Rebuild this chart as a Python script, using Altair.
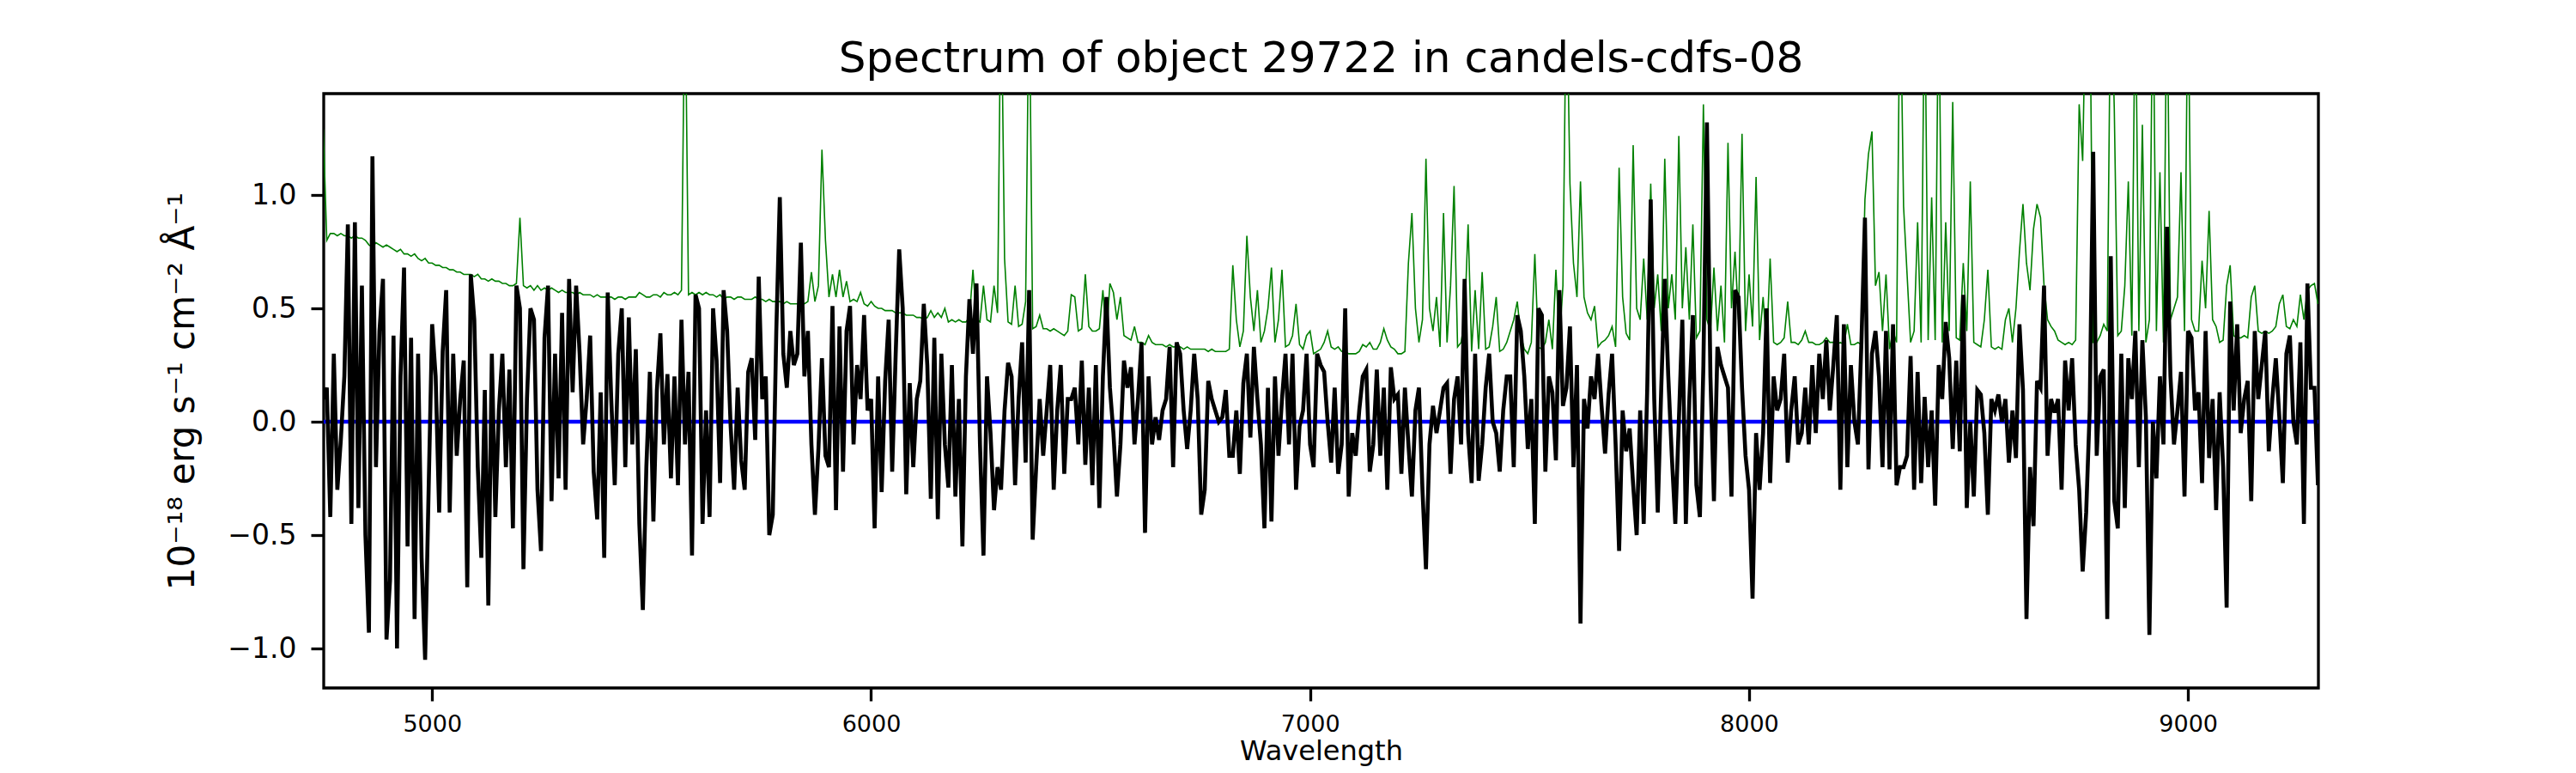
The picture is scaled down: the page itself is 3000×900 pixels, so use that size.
import altair as alt
import numpy as np
import pandas as pd

# Wavelength grid (Angstrom): regular sampling of the spectrum
WAVE_START = 4752
WAVE_STEP = 8

# Object flux, in units of 0.01 x 1e-18 erg/s/cm2/A
flux = [
    10, 15, -42, 30, -30, -8, 20, 87, -45, 88, -38, 60, -50, -93, 117, -20, 40, 63, -96, -70, 38, -100, 20, 68, -55,
    37, -87, 30, -60, -105, -30, 43, 20, -40, 31, 58, -40, 30, -15, 10, 27, -73, 65, 45, -20, -60, 14, -81, 30, -42,
    5, 30, -20, 23, -47, 60, 50, -65, 10, 50, 45, -30, -57, 37, 60, -35, 30, -25, 48, -30, 63, 13, 60, 30, -10,
    10, 38, -22, -43, 13, -60, 57, 10, -28, 30, 50, -20, 46, -10, 32, -45, -83, -20, 22, -44, 14, 39, -10, 21, -25,
    20, -28, 45, -10, 22, -59, 56, 50, -45, 5, -42, 50, 27, -27, 58, 40, -2, -30, 15, -17, -30, 22, 28, -8, 64,
    10, 20, -50, -41, 40, 99, 30, 15, 40, 25, 30, 79, 20, 40, -10, -41, -12, 28, -15, -20, 51, -39, 42, -22, 40,
    51, -10, 25, 10, 47, 5, 10, -47, 20, -31, 18, 45, -22, 30, 76, 50, -32, 17, -20, 10, 18, 52, 25, -34, 37,
    -43, 30, -10, -29, 25, -33, 10, -55, 20, 54, 30, 61, -10, -59, 20, -5, -39, -20, -30, 5, 26, 20, -28, 10, 35,
    -18, 58, -52, -20, 10, -15, 5, 25, -30, 5, 25, -23, 10, 10, 15, -10, 27, -19, 15, -28, 25, -38, 20, 55, 15,
    -5, -33, -10, 27, 15, 24, -10, 10, 35, -49, 20, -10, 2, -8, 5, 10, 33, -20, 35, 30, 5, -12, 5, 30, 10,
    -41, -30, 18, 10, 5, 0, 2, 14, -15, -15, 5, -23, 17, 30, -7, 33, 10, -10, -47, 15, -44, 20, -15, 10, 30,
    -10, 30, -30, -2, 5, 30, -10, -20, 30, 25, 22, 0, -18, 15, -23, -10, 50, -33, -5, -15, 5, 20, 23, -22, -10,
    23, -15, 15, -30, 24, 10, 12, -23, 15, -10, -33, 5, 15, -30, -65, -10, 7, -5, 5, 15, 17, -23, 10, 20, -10,
    63, -5, -27, 30, -26, -10, 15, 30, 0, -5, -22, 5, 20, 20, -20, 47, 40, 20, -12, 10, -45, 50, 47, -22, 20,
    13, -17, 58, 7, 15, 42, -20, 25, -89, 10, -3, 20, 10, 30, 7, -14, 12, 30, -10, -57, 5, -13, -3, -28, -50,
    5, -45, 14, 98, 10, -40, 15, 63, 20, -15, -45, 0, 45, -45, 10, 47, -28, -42, 25, 132, 20, -35, 33, 25, 20,
    15, -33, 58, 55, 15, -15, -30, -78, -5, -30, -5, 50, -27, 20, 5, 10, 30, -18, 5, 20, -10, -5, 15, -10, 25,
    -5, 30, 10, 36, 5, 25, 47, -30, 43, -20, 25, 0, -10, 35, 90, -21, 30, 40, 20, -20, 40, -21, 43, -28, -20,
    -20, -15, 29, -30, 22, -27, 11, -20, 5, -37, 25, 10, 44, 28, -12, 27, -13, 56, -38, 0, -33, 14, 12, -5, -41,
    10, 5, 12, 0, 10, -18, 5, -16, 43, 14, -87, -20, -46, 18, 15, 60, -15, 10, 4, 10, -30, 27, 5, 28, -10,
    -30, -66, -40, 5, 119, -15, 20, 23, -87, 73, -35, -47, 30, -38, 28, 10, 40, -20, 36, 2, -94, 0, -25, 20, -10,
    86, 20, -10, 5, 22, -33, 40, 37, 5, 13, -27, 40, -16, 10, -39, 13, -20, -82, 53, 5, 43, -5, 10, 18, -35,
    40, 10, 25, 40, -13, 10, 28, 2, -27, 30, 38, 0, -10, 35, -45, 61, 15, 15, -28,
]

# Sky / noise spectrum, same units (green curve); 200 = off the top of the plot
sky = [
    129, 80, 83, 83, 82, 83, 82, 82, 81, 82, 81, 81, 80, 78, 77, 79, 78, 77, 78, 77, 76, 75, 76, 74, 74,
    73, 74, 72, 71, 72, 70, 70, 69, 69, 68, 68, 67, 67, 66, 66, 65, 65, 65, 64, 65, 63, 63, 62, 63, 62,
    62, 61, 61, 60, 60, 61, 90, 60, 59, 60, 58, 60, 58, 59, 58, 59, 58, 57, 58, 57, 57, 57, 56, 57, 56,
    56, 56, 55, 56, 55, 55, 55, 55, 54, 55, 55, 54, 55, 55, 55, 57, 56, 55, 55, 56, 56, 55, 57, 56, 56,
    57, 56, 58, 200, 56, 57, 56, 57, 56, 57, 56, 56, 55, 56, 54, 55, 55, 54, 55, 55, 54, 54, 54, 55, 54,
    54, 53, 54, 53, 53, 53, 52, 53, 52, 52, 52, 52, 52, 53, 66, 53, 60, 120, 80, 55, 65, 55, 67, 55, 62,
    53, 54, 53, 57, 52, 51, 53, 51, 50, 50, 49, 49, 49, 48, 48, 48, 47, 47, 47, 46, 46, 45, 46, 49, 46,
    48, 46, 50, 44, 45, 44, 45, 44, 44, 46, 67, 45, 44, 60, 45, 44, 60, 48, 200, 72, 44, 43, 60, 42, 43,
    53, 200, 41, 42, 47, 41, 41, 40, 41, 40, 39, 38, 40, 56, 55, 40, 41, 65, 42, 40, 40, 41, 58, 37, 61,
    57, 45, 55, 38, 37, 36, 42, 35, 35, 34, 38, 35, 34, 34, 34, 33, 34, 33, 33, 33, 32, 33, 32, 32, 32,
    32, 32, 31, 32, 31, 31, 31, 31, 32, 69, 45, 33, 40, 82, 55, 40, 58, 35, 40, 50, 68, 35, 45, 67, 33,
    34, 38, 52, 34, 32, 38, 40, 30, 31, 32, 35, 40, 33, 32, 33, 31, 31, 30, 30, 30, 31, 34, 33, 35, 32,
    32, 35, 41, 36, 33, 32, 30, 30, 31, 70, 92, 50, 35, 45, 116, 50, 40, 55, 33, 92, 35, 60, 104, 33, 35,
    45, 87, 31, 58, 32, 66, 32, 33, 42, 55, 31, 32, 35, 40, 45, 53, 38, 32, 30, 35, 74, 33, 32, 35, 45,
    32, 67, 35, 60, 200, 105, 70, 55, 106, 55, 48, 45, 51, 33, 35, 36, 38, 42, 33, 112, 55, 39, 36, 122, 50,
    45, 72, 45, 105, 50, 65, 40, 116, 50, 65, 45, 126, 50, 77, 45, 87, 37, 40, 140, 45, 40, 68, 40, 60, 35,
    123, 50, 75, 45, 127, 40, 65, 42, 108, 36, 55, 33, 72, 35, 34, 35, 37, 53, 35, 35, 34, 36, 40, 35, 35,
    34, 34, 35, 37, 35, 35, 34, 35, 34, 43, 34, 34, 35, 34, 98, 118, 128, 60, 66, 40, 65, 32, 40, 35, 200,
    95, 65, 35, 40, 88, 35, 200, 36, 99, 36, 200, 35, 88, 40, 141, 37, 36, 70, 40, 106, 35, 34, 33, 45, 67,
    33, 32, 33, 32, 45, 50, 35, 50, 75, 96, 70, 58, 85, 96, 90, 60, 45, 42, 40, 36, 35, 34, 35, 34, 36,
    140, 115, 200, 200, 35, 35, 38, 43, 40, 200, 138, 38, 40, 60, 106, 38, 200, 40, 131, 35, 45, 200, 40, 110, 35,
    200, 45, 50, 55, 110, 40, 200, 45, 40, 40, 71, 50, 93, 45, 42, 35, 36, 60, 69, 38, 37, 37, 38, 37, 55,
    60, 40, 39, 40, 39, 40, 42, 52, 56, 42, 41, 45, 42, 56, 45, 58, 60, 61, 52,
]

# Model (blue) line
model_wave = [4752, 9300]
model_flux = [0.0, 0.0]

x_ticks = [5000, 6000, 7000, 8000, 9000]
y_ticks = [-1.0, -0.5, 0.0, 0.5, 1.0]
x_domain = [4753, 9297]
y_domain = [-1.174, 1.447]

TITLE = "Spectrum of object 29722 in candels-cdfs-08"
XLABEL = "Wavelength"
YLABEL = "10\u207b\u00b9\u2078 erg s\u207b\u00b9 cm\u207b\u00b2 \u00c5\u207b\u00b9"

flux_df = pd.DataFrame({
    "wave": WAVE_START + WAVE_STEP * np.arange(len(flux)),
    "val": np.array(flux, dtype=float) / 100.0,
})
sky_df = pd.DataFrame({
    "wave": WAVE_START + WAVE_STEP * np.arange(len(sky)),
    "val": np.array(sky, dtype=float) / 100.0,
})
model_df = pd.DataFrame({"wave": model_wave, "val": model_flux})

FONT = "DejaVu Sans"
PLOT_W = 2323
PLOT_H = 692

X = alt.X(
    "wave:Q",
    scale=alt.Scale(domain=x_domain, nice=False, zero=False),
    axis=alt.Axis(
        values=x_ticks, format="d", title=XLABEL,
        labelFontSize=27, labelPadding=14, labelFlush=False, labelOverlap=False,
        titleFontSize=32, titleBaseline="alphabetic", titleY=83,
    ),
)
Y = alt.Y(
    "val:Q",
    scale=alt.Scale(domain=y_domain, nice=False, zero=False),
    axis=alt.Axis(
        values=y_ticks, format=".1f", title=YLABEL,
        labelFontSize=33, labelPadding=17, labelOverlap=False,
        titleFontSize=42, titleAngle=270, titleBaseline="alphabetic",
        titleAlign="center", titleX=-152, titleY=PLOT_H / 2,
    ),
)

sky_line = alt.Chart(sky_df).mark_line(color="#008000", strokeWidth=1.6, clip=True).encode(x=X, y=Y)
model_line = alt.Chart(model_df).mark_line(color="#0000ff", strokeWidth=4.5, clip=True).encode(x=X, y=Y)
flux_line = alt.Chart(flux_df).mark_line(color="#000000", strokeWidth=4.6, clip=True).encode(x=X, y=Y)

chart = (
    alt.layer(sky_line, model_line, flux_line)
    .properties(
        width=PLOT_W,
        height=PLOT_H,
        title=alt.TitleParams(
            text=TITLE, fontSize=50, font=FONT, fontWeight="normal", color="black",
            anchor="middle", baseline="alphabetic", offset=-25,
        ),
        autosize=alt.AutoSizeParams(type="none"),
        padding={"left": 369, "top": 101, "right": 60, "bottom": 99},
    )
    .configure_view(stroke="black", strokeWidth=3.3)
    .configure_axis(
        domain=False, grid=False,
        labelFont=FONT, labelColor="black",
        titleFont=FONT, titleColor="black", titleFontWeight="normal",
        tickColor="black", tickWidth=3.3, tickSize=15,
    )
)

chart.save("out.html", embed_options={"renderer": "svg", "actions": False})
